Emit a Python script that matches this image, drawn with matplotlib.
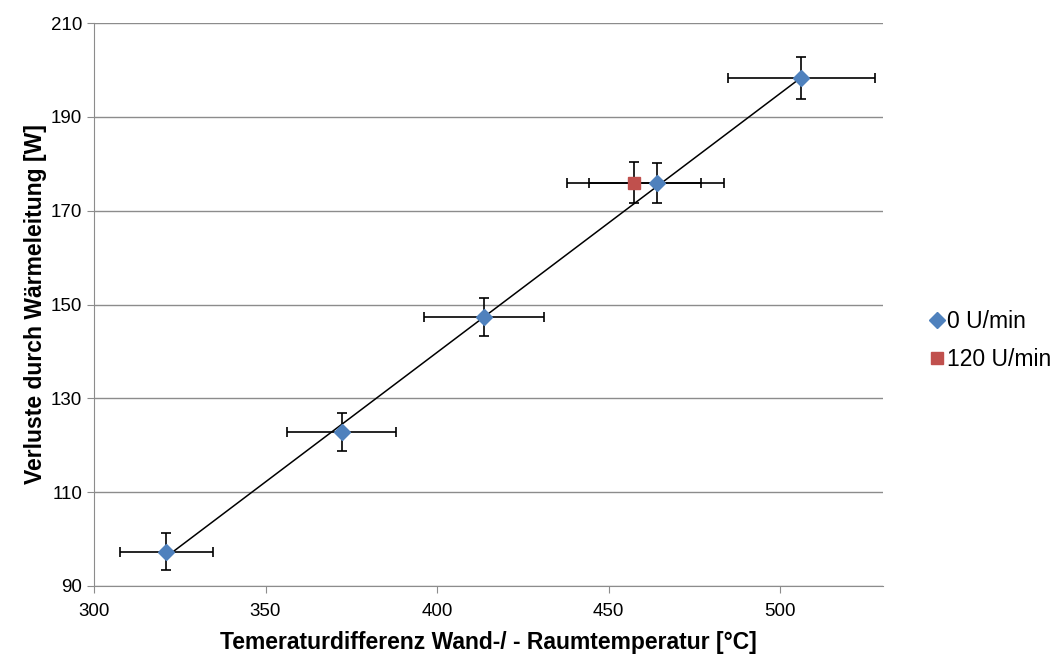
import numpy as np
import matplotlib
matplotlib.use("Agg")
import matplotlib.pyplot as plt

plt.rcParams['font.family'] = ['Liberation Sans', 'DejaVu Sans']

# 0 U/min series
dT_0 = [321.1, 372.2, 413.8, 464.0, 506.2]
q_0 = [97.3, 122.8, 147.3, 175.9, 198.3]
dT_0_err = [13.6, 15.8, 17.5, 19.6, 21.5]
q_0_err = [3.9, 4.0, 4.1, 4.2, 4.4]

# 120 U/min series
dT_120 = [457.4]
q_120 = [176.0]
dT_120_err = [19.4]
q_120_err = [4.3]

x_ticks = [300, 350, 400, 450, 500]
y_ticks = [90, 110, 130, 150, 170, 190, 210]

fig = plt.figure(figsize=(10.61, 6.57), dpi=100)
ax = fig.add_axes([94 / 1061, 1 - 586 / 657, (883 - 94) / 1061, (586 - 23) / 657])

ax.set_xlim(300, 530)
ax.set_ylim(90, 210)
ax.set_xticks(x_ticks)
ax.set_yticks(y_ticks)
ax.yaxis.grid(True, color='#8c8c8c', linewidth=1)
ax.set_axisbelow(True)

for side in ['top', 'right']:
    ax.spines[side].set_visible(False)
for side in ['left', 'bottom']:
    ax.spines[side].set_color('#8c8c8c')
ax.tick_params(axis='both', colors='#8c8c8c', labelcolor='black', labelsize=13.5,
               length=5, direction='out')
ax.tick_params(axis='x', pad=7)

# linear trendline through 0 U/min data
coef = np.polyfit(dT_0, q_0, 1)
xs = np.array([min(dT_0), max(dT_0)])
ax.plot(xs, np.polyval(coef, xs), color='black', linewidth=1.1, zorder=2)

ax.errorbar(dT_0, q_0, xerr=dT_0_err, yerr=q_0_err, fmt='none', ecolor='black',
            elinewidth=1.2, capsize=3.5, capthick=1.2, zorder=3)
ax.errorbar(dT_120, q_120, xerr=dT_120_err, yerr=q_120_err, fmt='none', ecolor='black',
            elinewidth=1.2, capsize=3.5, capthick=1.2, zorder=3)

ax.plot(dT_0, q_0, linestyle='none', marker='D', markersize=8, color='#4f81bd',
        label='0 U/min', zorder=4)
ax.plot(dT_120, q_120, linestyle='none', marker='s', markersize=9, color='#c0504d',
        label='120 U/min', zorder=4)

ax.set_xlabel('Temeraturdifferenz Wand-/ - Raumtemperatur [°C]', fontsize=16.5,
              fontweight='bold', labelpad=8)
ax.set_ylabel('Verluste durch Wärmeleitung [W]', fontsize=16.5, fontweight='bold',
              labelpad=3)

fig.legend(loc='center left', bbox_to_anchor=(0.857, 0.482), frameon=False,
           fontsize=16.5, handlelength=0.6, handletextpad=0.15, labelspacing=0.65)

fig.savefig('out.png', dpi=100)
